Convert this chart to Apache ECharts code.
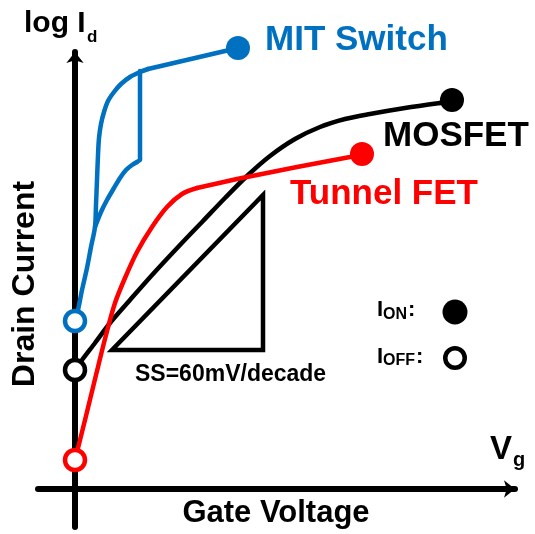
<!DOCTYPE html>
<html>
<head>
<meta charset="utf-8">
<script src="https://cdn.jsdelivr.net/npm/echarts@6/dist/echarts.min.js"></script>
<style>
  html, body { margin: 0; padding: 0; background: #fff; }
  #chart { width: 535px; height: 534px; }
</style>
</head>
<body>
<div id="chart"></div>
<script>
// Schematic Id–Vg curves: x = gate voltage, y = log drain current (arbitrary units,
// origin where the two axes cross).

// MIT switch: steep rise, hysteretic return sweep with an abrupt jump
const mitRise = [[0,168],[3,179],[7,199],[12,221],[16,242],[20,262],[21,284],[22,309],[23,334],[24,351],[26,365],[29,377],[33,388],[39,397],[46,405],[55,412],[65,417],[73,420]];
const mitOnState = [[73,420],[163,441]];
const mitReturn = [[20,262],[26,277],[32,289],[39,301],[45,311],[51,319],[57,324],[62,327]];
const mitJump = [[62,327],[65,329],[65,418]];

// MOSFET
const mosfetRise = [[0,119],[7,129],[20,146],[35,166],[55,189],[78,215],[105,244],[128,268],[150,291],[172,313],[195,333],[220,350],[245,362],[270,370],[295,375],[330,381],[365,386]];
const mosfetOnState = [[365,386],[377,389]];

// Tunnel FET
const tfetRise = [[0,29],[2,37],[11,73],[21,114],[31,154],[40,186],[50,211],[62,237],[77,262],[92,282],[107,295],[122,301]];
const tfetOnState = [[122,301],[162,310],[222,322],[275,332],[287,335]];

// I_OFF (open) and I_ON (filled) points: MIT switch, MOSFET, tunnel FET
const offPoints = [[0,168],[0,119],[0,29]];
const onPoints = [[163,441],[377,389],[287,335]];
const pointColors = ['#0070C0', '#000000', '#FF0000'];

// 60 mV/decade reference triangle
const ssTriangle = [[37,139],[188,139],[188,294],[37,139],[188,139]];

const BLUE = '#0070C0', RED = '#FF0000', BLACK = '#000000';
const FONT = '"Liberation Sans", Arial, sans-serif';

function curve(data, color, smooth) {
  return {
    type: 'line', data: data, smooth: smooth, symbol: 'none', clip: false,
    silent: true, z: 3,
    lineStyle: { color: color, width: 4.5, cap: 'round', join: 'round' }
  };
}

function label(text, x, y, size, color, extra) {
  return Object.assign({
    type: 'text', x: x, y: y, silent: true, z: 10,
    style: {
      text: text, fill: color || BLACK,
      font: 'bold ' + size + 'px ' + FONT,
      align: 'left', verticalAlign: 'middle'
    }
  }, extra || {});
}

const chart = echarts.init(document.getElementById('chart'), null, { renderer: 'canvas' });

chart.setOption({
  animation: false,
  backgroundColor: '#ffffff',
  grid: { left: 38, right: 20, top: 52, bottom: 7, containLabel: false },
  xAxis: {
    type: 'value', min: -37, max: 440,
    axisLine: { onZero: true, symbol: ['none', 'arrow'], symbolSize: [13, 11],
      lineStyle: { color: BLACK, width: 6 } },
    axisTick: { show: false }, axisLabel: { show: false }, splitLine: { show: false }
  },
  yAxis: {
    type: 'value', min: -38, max: 437,
    axisLine: { onZero: true, symbol: ['none', 'arrow'], symbolSize: [13, 11],
      lineStyle: { color: BLACK, width: 6 } },
    axisTick: { show: false }, axisLabel: { show: false }, splitLine: { show: false }
  },
  series: [
    curve(mitRise, BLUE, 0.3),
    curve(mitOnState, BLUE, false),
    curve(mitReturn, BLUE, 0.3),
    curve(mitJump, BLUE, false),
    curve(mosfetRise, BLACK, 0.3),
    curve(mosfetOnState, BLACK, false),
    curve(tfetRise, RED, 0.3),
    curve(tfetOnState, RED, false),
    {
      type: 'line', data: ssTriangle, symbol: 'none', clip: false, silent: true, z: 2,
      lineStyle: { color: BLACK, width: 4.5, join: 'miter' }
    },
    {
      type: 'scatter', clip: false, silent: true, z: 6,
      symbol: 'circle', symbolSize: 20,
      data: offPoints.map((p, i) => ({
        value: p,
        itemStyle: { color: '#ffffff', borderColor: pointColors[i], borderWidth: 4.5, opacity: 1 }
      }))
    },
    {
      type: 'scatter', clip: false, silent: true, z: 6,
      symbol: 'circle', symbolSize: 24,
      data: onPoints.map((p, i) => ({ value: p, itemStyle: { color: pointColors[i], opacity: 1 } }))
    }
  ],
  graphic: [
    // axis titles
    label('log I', 24, 24, 30),
    label('d', 87, 37.5, 17),
    label('Drain Current', 25, 284, 32, BLACK, { rotation: Math.PI / 2,
      style: { text: 'Drain Current', fill: BLACK, font: 'bold 32px ' + FONT,
        align: 'center', verticalAlign: 'middle' } }),
    label('Gate Voltage', 276, 513, 31, BLACK, {
      style: { text: 'Gate Voltage', fill: BLACK, font: 'bold 31px ' + FONT,
        align: 'center', verticalAlign: 'middle' } }),
    label('V', 490, 450, 33),
    label('g', 513, 460, 20),
    // device names
    label('MIT Switch', 265, 40, 35, BLUE),
    label('MOSFET', 383, 136, 35, BLACK),
    label('Tunnel FET', 290, 194, 35, RED),
    // slope annotation
    label('SS=60mV/decade', 135, 375, 23),
    // marker key
    label('I', 377, 310, 22),
    label('ON', 383, 314.5, 16),
    label(':', 408, 310, 22),
    label('I', 377, 356.5, 22),
    label('OFF', 383, 361, 16),
    label(':', 416, 356.5, 22),
    { type: 'circle', silent: true, z: 10, shape: { cx: 455, cy: 312, r: 12.5 },
      style: { fill: BLACK } },
    { type: 'circle', silent: true, z: 10, shape: { cx: 455, cy: 358, r: 9.75 },
      style: { fill: '#ffffff', stroke: BLACK, lineWidth: 4.5 } }
  ]
});
</script>
</body>
</html>
